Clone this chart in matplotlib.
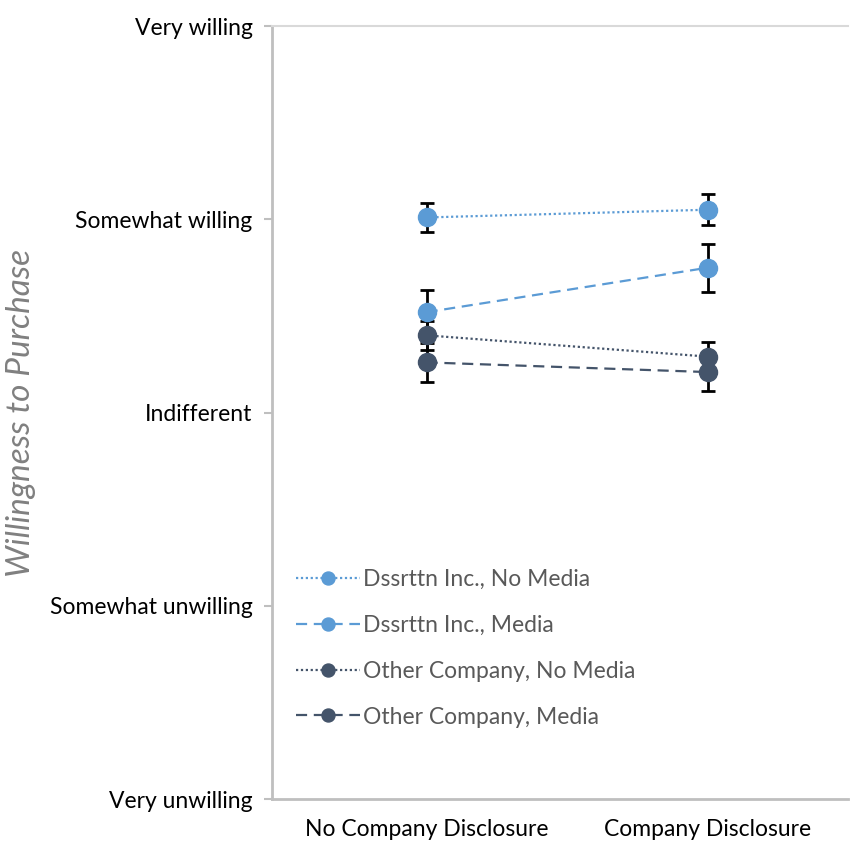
import matplotlib
matplotlib.use("Agg")
import matplotlib.pyplot as plt

conditions = ["No Company Disclosure", "Company Disclosure"]
scale_labels = ["Very unwilling", "Somewhat unwilling", "Indifferent",
                "Somewhat willing", "Very willing"]

series_names = ["Dssrttn Inc., No Media", "Dssrttn Inc., Media",
                "Other Company, No Media", "Other Company, Media"]
means = [
    [4.01, 4.05],
    [3.52, 3.75],
    [3.40, 3.29],
    [3.26, 3.21],
]
errors = [
    [0.075, 0.08],
    [0.115, 0.125],
    [0.075, 0.075],
    [0.10, 0.10],
]
colors = ["#5B9BD5", "#5B9BD5", "#44546A", "#44546A"]
styles = [(0, (1, 1.2)), (0, (5, 3)), (0, (1, 1.2)), (0, (5, 3))]

plt.rcParams["font.family"] = ["Lato", "DejaVu Sans"]

fig = plt.figure(figsize=(8.5, 8.43), dpi=100)
ax = fig.add_axes([0.32, 0.052, 0.678, 0.917])

x = list(range(len(conditions)))
for name, m, e, c, ls in zip(series_names, means, errors, colors, styles):
    ax.errorbar(x, m, yerr=e, fmt="none", ecolor="black", elinewidth=2,
                capsize=5, capthick=2, zorder=2)
    ax.plot(x, m, color=c, linestyle=ls, linewidth=1.6, marker="o",
            markersize=13, label=name, zorder=3)

ax.set_xlim(-0.55, 1.5)
ax.set_ylim(1, 5)
ax.set_xticks(x)
ax.set_xticklabels(conditions, fontsize=16.5)
ax.set_yticks([1, 2, 3, 4, 5])
ax.set_yticklabels(scale_labels, fontsize=16.5)
ax.tick_params(axis="x", length=0, pad=14)
ax.tick_params(axis="y", length=6, color="#BFBFBF", width=1.5, pad=8)

for side in ["left", "bottom"]:
    ax.spines[side].set_color("#BFBFBF")
    ax.spines[side].set_linewidth(2)
ax.spines["top"].set_color("#D9D9D9")
ax.spines["top"].set_linewidth(1.5)
ax.spines["right"].set_visible(False)

ax.set_ylabel("Willingness to Purchase", fontsize=24, style="italic",
              color="#808080")
ax.yaxis.set_label_coords(-0.41, 0.5)

leg = ax.legend(loc="lower left", bbox_to_anchor=(0.005, 0.066), frameon=False,
                fontsize=16.5, handlelength=2.8, labelspacing=1.08,
                handletextpad=0.15, markerscale=0.72)
for t in leg.get_texts():
    t.set_color("#595959")

fig.savefig("out.png", dpi=100)
